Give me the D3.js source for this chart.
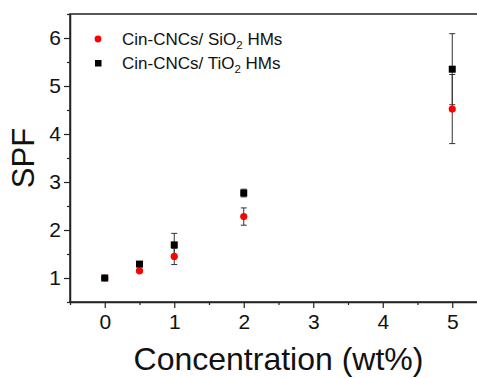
<!DOCTYPE html>
<html>
  <head>
    <meta charset="utf-8">
    <title>SPF</title>
    <script src="https://d3js.org/d3.v7.min.js"></script>
    <style>
    body{margin:0; background:white;}
    svg{display:block; font-family:"Liberation Sans", Arial, sans-serif;}
    </style>
  </head>
  <body>
    <script>
    // data
    var conc = [0, 0.5, 1, 2, 5];
    var spfSiO2 = [1.00, 1.15, 1.45, 2.28, 4.52];
    var errSiO2 = [0.02, 0.03, 0.17, 0.18, 0.72];
    var spfTiO2 = [1.00, 1.29, 1.69, 2.77, 5.35];
    var errTiO2 = [0.02, 0.03, 0.24, 0.08, 0.74];
    var xTicks = [0, 1, 2, 3, 4, 5];
    var yTicks = [1, 2, 3, 4, 5, 6];
    var seriesNames = ["Cin-CNCs/ SiO", "Cin-CNCs/ TiO"];

    var width = 477, height = 378;
    var margin = {top: 14, left: 70};
    var plotW = 417, plotH = 288;

    var svg = d3.select("body").append("svg").attr("width", width).attr("height", height);
    var g = svg.append("g").attr("transform", "translate(" + margin.left + "," + margin.top + ")");

    var x = d3.scaleLinear().domain([-0.5, 5.5]).range([0, plotW]);
    var y = d3.scaleLinear().domain([0.5, 6.5]).range([plotH, 0]);

    // frame
    g.append("rect").attr("width", plotW).attr("height", plotH)
      .attr("fill", "none").attr("stroke", "#222").attr("stroke-width", 1.5);

    // minor ticks
    g.append("g").attr("transform", "translate(0," + plotH + ")")
      .call(d3.axisBottom(x).tickValues(d3.range(-0.5, 5.6, 1)).tickSize(3).tickFormat(""))
      .call(function(a){ a.select(".domain").remove(); });
    g.append("g")
      .call(d3.axisLeft(y).tickValues(d3.range(0.5, 6.6, 1)).tickSize(3).tickFormat(""))
      .call(function(a){ a.select(".domain").remove(); });

    // major axes
    var xa = g.append("g").attr("transform", "translate(0," + plotH + ")")
      .call(d3.axisBottom(x).tickValues(xTicks).tickFormat(d3.format("d")).tickSize(6).tickPadding(6).tickSizeOuter(0));
    var ya = g.append("g")
      .call(d3.axisLeft(y).tickValues(yTicks).tickFormat(d3.format("d")).tickSize(6).tickPadding(3).tickSizeOuter(0));
    [xa, ya].forEach(function(a){
      a.select(".domain").attr("stroke", "#222").attr("stroke-width", 1.5);
      a.selectAll(".tick text").attr("fill", "#111").style("font-size", "21px")
        .style("font-family", "Liberation Sans, Arial, sans-serif");
    });
    g.selectAll(".tick line").attr("stroke", "#222").attr("stroke-width", 1.2);

    // axis titles
    svg.append("text").attr("x", margin.left + plotW / 2).attr("y", 370)
      .attr("text-anchor", "middle").style("font-size", "32px").attr("fill", "#111")
      .text("Concentration (wt%)");
    svg.append("text").attr("transform", "translate(34," + (margin.top + plotH / 2) + ") rotate(-90)")
      .attr("text-anchor", "middle").style("font-size", "31px").attr("fill", "#111")
      .text("SPF");

    // error bars
    function errorBars(vals, errs) {
      var eb = g.append("g").attr("stroke", "#333").attr("stroke-width", 1);
      conc.forEach(function(c, i){
        var cx = x(c), lo = y(vals[i] - errs[i]), hi = y(vals[i] + errs[i]);
        eb.append("line").attr("x1", cx).attr("x2", cx).attr("y1", lo).attr("y2", hi);
        eb.append("line").attr("x1", cx - 3).attr("x2", cx + 3).attr("y1", lo).attr("y2", lo);
        eb.append("line").attr("x1", cx - 3).attr("x2", cx + 3).attr("y1", hi).attr("y2", hi);
      });
    }
    errorBars(spfSiO2, errSiO2);
    errorBars(spfTiO2, errTiO2);

    // points
    g.append("g").selectAll("circle").data(conc).enter().append("circle")
      .attr("cx", function(d){ return x(d); })
      .attr("cy", function(d, i){ return y(spfSiO2[i]); })
      .attr("r", 3.6).attr("fill", "#f00");
    g.append("g").selectAll("rect").data(conc).enter().append("rect")
      .attr("x", function(d){ return x(d) - 3.5; })
      .attr("y", function(d, i){ return y(spfTiO2[i]) - 3.5; })
      .attr("width", 7).attr("height", 7).attr("fill", "#000");

    // legend
    var lg = svg.append("g");
    lg.append("circle").attr("cx", 98).attr("cy", 39).attr("r", 3.4).attr("fill", "#f00");
    lg.append("rect").attr("x", 95).attr("y", 60).attr("width", 6.5).attr("height", 6.5).attr("fill", "#000");
    seriesNames.forEach(function(n, i){
      var t = lg.append("text").attr("x", 122).attr("y", 45 + i * 24)
        .style("font-size", "17px").attr("fill", "#111");
      t.append("tspan").text(n);
      t.append("tspan").attr("dy", 4).style("font-size", "11.5px").text("2");
      t.append("tspan").attr("dy", -4).text(" HMs");
    });
    </script>
  </body>
</html>
